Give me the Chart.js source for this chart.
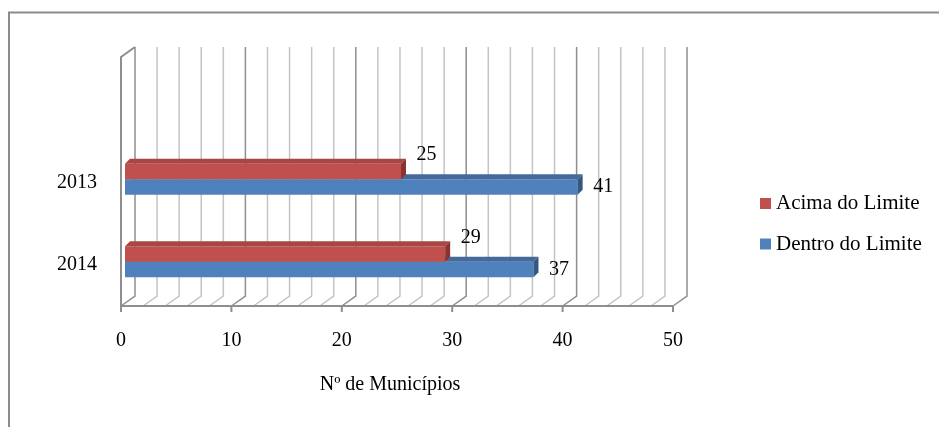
<!DOCTYPE html>
<html>
<head>
<meta charset="utf-8">
<script src="https://cdn.jsdelivr.net/npm/chart.js@4.4.1/dist/chart.umd.min.js"></script>
<style>
  html, body { margin: 0; padding: 0; background: #ffffff; }
  #wrap { position: relative; width: 939px; height: 427px; }
  canvas { display: block; }
</style>
</head>
<body>
<div id="wrap"><canvas id="chart" width="939" height="427"></canvas></div>
<script>
// Municípios por situação em relação ao limite, por ano
const years = ['2013', '2014'];
const seriesNames = ['Acima do Limite', 'Dentro do Limite'];
const acimaDoLimite = [25, 29];
const dentroDoLimite = [41, 37];
const xTickLabels = [0, 10, 20, 30, 40, 50];
const xAxisTitle = 'Nº de Municípios';

const FONT = '"Liberation Serif", "Times New Roman", serif';
const RED = '#C0504D', BLUE = '#4F81BD';

// pseudo-3D geometry (pixels)
const WALL_DX = 14, WALL_DY = 10, WALL_TOP = 47;
const BAR_SHIFT_X = 4, BAR_SHIFT_Y = 3, BAR_DEPTH = 5;

const threeD = {
  id: 'threeD',
  beforeDraw(chart) {
    const ctx = chart.ctx;
    ctx.save();
    ctx.strokeStyle = '#8c8c8c';
    ctx.lineWidth = 2;
    ctx.strokeRect(9, 12.5, 1200, 1200);
    ctx.restore();
  },
  beforeDatasetsDraw(chart) {
    const { ctx, chartArea: { left, right, bottom }, scales: { x } } = chart;
    ctx.save();
    ctx.lineWidth = 1.5;
    // back wall and floor grid
    x.ticks.forEach(t => {
      const px = x.getPixelForValue(t.value);
      const major = xTickLabels.includes(t.value);
      ctx.strokeStyle = major ? '#8e8e8e' : '#c4c4c4';
      ctx.beginPath();
      ctx.moveTo(px + WALL_DX, WALL_TOP);
      ctx.lineTo(px + WALL_DX, bottom - WALL_DY);
      ctx.lineTo(px, bottom);
      ctx.stroke();
    });
    ctx.strokeStyle = '#8e8e8e';
    ctx.lineWidth = 2;
    // front floor edge
    ctx.beginPath();
    ctx.moveTo(left, bottom);
    ctx.lineTo(right, bottom);
    ctx.stroke();
    // major tick marks
    xTickLabels.forEach(v => {
      const px = x.getPixelForValue(v);
      ctx.beginPath();
      ctx.moveTo(px, bottom);
      ctx.lineTo(px, bottom + 6);
      ctx.stroke();
    });
    // left wall front edge
    ctx.beginPath();
    ctx.moveTo(left, bottom);
    ctx.lineTo(left, WALL_TOP + WALL_DY);
    ctx.lineTo(left + WALL_DX, WALL_TOP);
    ctx.stroke();
    ctx.restore();
    // bars sit halfway into the wall depth
    ctx.save();
    ctx.translate(BAR_SHIFT_X, -BAR_SHIFT_Y);
  },
  afterDatasetDraw(chart, args) {
    const ctx = chart.ctx;
    const ds = chart.data.datasets[args.index];
    args.meta.data.forEach(el => {
      const x0 = el.base, x1 = el.x;
      const yT = el.y - el.height / 2, yB = el.y + el.height / 2;
      ctx.fillStyle = ds.topColor;
      ctx.beginPath();
      ctx.moveTo(x0, yT);
      ctx.lineTo(x0 + BAR_DEPTH, yT - BAR_DEPTH);
      ctx.lineTo(x1 + BAR_DEPTH, yT - BAR_DEPTH);
      ctx.lineTo(x1, yT);
      ctx.closePath();
      ctx.fill();
      ctx.fillStyle = ds.endColor;
      ctx.beginPath();
      ctx.moveTo(x1, yT);
      ctx.lineTo(x1 + BAR_DEPTH, yT - BAR_DEPTH);
      ctx.lineTo(x1 + BAR_DEPTH, yB - BAR_DEPTH);
      ctx.lineTo(x1, yB);
      ctx.closePath();
      ctx.fill();
    });
  },
  afterDatasetsDraw(chart) {
    const ctx = chart.ctx;
    ctx.font = '20px ' + FONT;
    ctx.fillStyle = '#000000';
    ctx.textAlign = 'left';
    ctx.textBaseline = 'middle';
    chart.data.datasets.forEach((ds, i) => {
      chart.getDatasetMeta(i).data.forEach((el, j) => {
        ctx.fillText(String(ds.data[j]), el.x + BAR_DEPTH + 10.5, el.y - ds.labelLift);
      });
    });
    ctx.restore();
  },
  afterDraw(chart) {
    const ctx = chart.ctx;
    ctx.save();
    // axis title
    ctx.font = '20px ' + FONT;
    ctx.fillStyle = '#000000';
    ctx.textAlign = 'center';
    ctx.textBaseline = 'middle';
    ctx.fillText(xAxisTitle, 390, 385);
    // legend
    ctx.font = '21px ' + FONT;
    ctx.textAlign = 'left';
    const rows = [203.5, 244];
    chart.data.datasets.forEach((ds, i) => {
      ctx.fillStyle = ds.backgroundColor;
      ctx.fillRect(760, rows[i] - 5.5, 11, 11);
      ctx.fillStyle = '#000000';
      ctx.fillText(ds.label, 776, rows[i]);
    });
    ctx.restore();
  }
};

new Chart(document.getElementById('chart'), {
  type: 'bar',
  data: {
    labels: years,
    datasets: [
      { label: seriesNames[0], data: acimaDoLimite, backgroundColor: RED,
        topColor: '#A84643', endColor: '#8A3432', labelLift: 16.5 },
      { label: seriesNames[1], data: dentroDoLimite, backgroundColor: BLUE,
        topColor: '#44699A', endColor: '#355883', labelLift: 0 }
    ]
  },
  options: {
    indexAxis: 'y',
    responsive: false,
    animation: false,
    devicePixelRatio: 1,
    layout: { padding: { left: 0, right: 266, top: 141, bottom: 0 } },
    datasets: { bar: { categoryPercentage: 0.376, barPercentage: 1, borderWidth: 0, borderSkipped: false } },
    plugins: { legend: { display: false }, tooltip: { enabled: false } },
    scales: {
      x: {
        type: 'linear',
        position: 'bottom',
        min: 0,
        max: 50,
        afterFit(s) { s.height = 121; },
        grid: { display: false, drawTicks: false },
        border: { display: false },
        ticks: {
          stepSize: 2,
          autoSkip: false,
          maxRotation: 0,
          padding: 23,
          color: '#000000',
          font: { family: FONT, size: 20 },
          callback: v => (xTickLabels.includes(v) ? String(v) : '')
        }
      },
      y: {
        type: 'category',
        offset: true,
        afterFit(s) { s.width = 121; },
        grid: { display: false, drawTicks: false },
        border: { display: false },
        ticks: { padding: 24, color: '#000000', font: { family: FONT, size: 20 } }
      }
    }
  },
  plugins: [threeD]
});
</script>
</body>
</html>
